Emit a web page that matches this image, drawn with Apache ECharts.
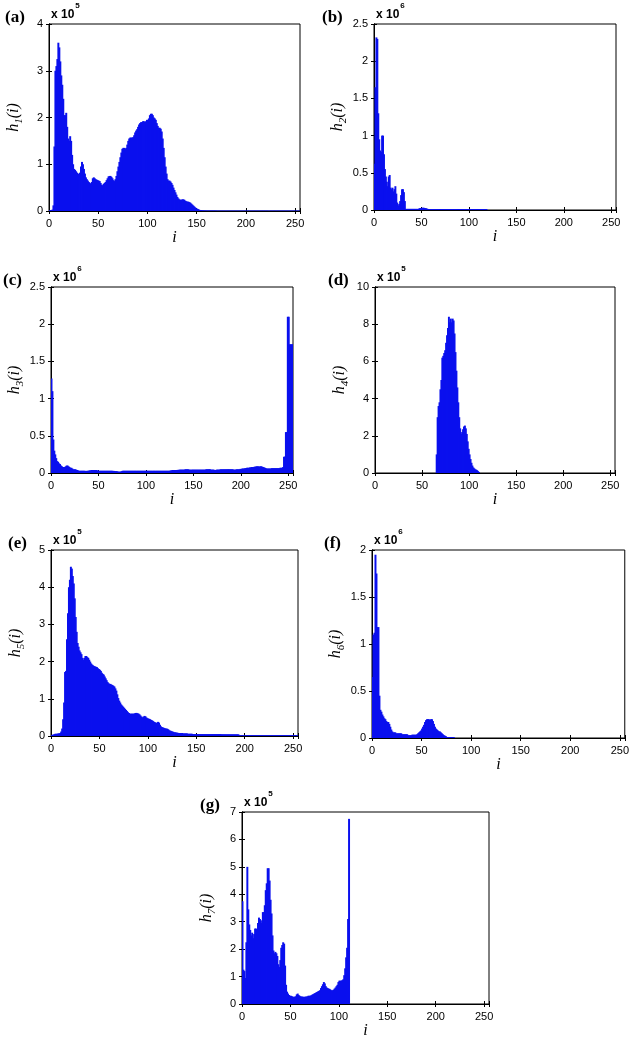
<!DOCTYPE html>
<html><head><meta charset="utf-8">
<script src="https://cdn.jsdelivr.net/npm/echarts@6/dist/echarts.min.js"></script>
<style>html,body{margin:0;padding:0;background:#fff}#c{width:632px;height:1043px}</style>
</head><body><div id="c"></div>
<script>
// ---------------- DATA (bin index i = start + position) ----------------
var xTicks = [0, 50, 100, 150, 200, 250];

// (a) h1, units of 1e5
var h1Start = 0;
var h1 = [
0.02,0.02,0.02,0.03,0.12,1.38,3.00,3.10,3.25,3.60,
3.50,3.20,2.90,2.70,2.40,2.05,2.05,2.10,1.80,1.55,
1.50,1.60,1.50,1.20,1.00,0.90,0.88,0.85,0.82,0.80,
0.78,0.82,0.95,1.05,1.00,0.90,0.80,0.72,0.68,0.65,
0.62,0.60,0.58,0.62,0.70,0.72,0.70,0.68,0.67,0.66,
0.65,0.64,0.60,0.56,0.55,0.58,0.60,0.62,0.66,0.70,
0.74,0.75,0.75,0.73,0.70,0.66,0.64,0.68,0.75,0.85,
0.95,1.05,1.15,1.25,1.33,1.35,1.35,1.33,1.35,1.42,
1.50,1.55,1.57,1.57,1.57,1.58,1.62,1.68,1.72,1.75,
1.80,1.85,1.88,1.90,1.90,1.92,1.92,1.90,1.92,1.95,
1.95,1.98,2.05,2.08,2.08,2.05,2.00,1.98,1.95,1.88,
1.82,1.78,1.78,1.76,1.70,1.55,1.35,1.15,0.95,0.80,
0.68,0.65,0.65,0.63,0.60,0.56,0.50,0.45,0.40,0.35,
0.30,0.27,0.25,0.24,0.24,0.25,0.25,0.24,0.22,0.21,
0.20,0.20,0.19,0.18,0.16,0.14,0.12,0.10,0.08,0.06,
0.05,0.04,0.03,0.02,0.02,0.015,0.015,0.012,0.012,0.01,
0.01,0.01,0.01,0.01,0.01,0.01,0.01,0.01,0.01,0.01,
0.008,0.008,0.008,0.008,0.008,0.008,0.008,0.008,0.008,0.008,
0.008,0.008,0.008,0.008,0.008,0.008,0.008,0.008,0.008,0.008,
0.008,0.008,0.008,0.008,0.008,0.008,0.008,0.008,0.008,0.008,
0.008,0.008,0.008,0.008,0.008,0.008,0.008,0.008,0.008,0.008,
0.008,0.008,0.008,0.008,0.008,0.008,0.008,0.008,0.008,0.008,
0.008,0.008,0.008,0.008,0.008,0.008,0.008,0.008,0.008,0.008,
0.008,0.008,0.008,0.008,0.008,0.008,0.008,0.008,0.008,0.008,
0.008,0.008,0.008,0.008,0.008,0.008,0.008,0.008,0.008,0.008,
0.008,0.008,0.008,0.008,0.008,0.008
];

// (b) h2, units of 1e6
var h2Start = 0;
var h2 = [
0.62,1.65,2.32,2.30,1.30,0.95,0.80,0.78,1.00,1.00,
0.75,0.55,0.45,0.38,0.32,0.45,0.47,0.30,0.28,0.30,
0.25,0.28,0.32,0.22,0.10,0.06,0.08,0.12,0.20,0.28,
0.28,0.24,0.12,0.015,0.015,0.015,0.015,0.015,0.015,0.015,
0.015,0.015,0.015,0.015,0.015,0.015,0.015,0.02,0.025,0.025,
0.03,0.03,0.03,0.025,0.025,0.02,0.015,0.012,0.012,0.012,
0.012,0.012,0.012,0.012,0.012,0.012,0.012,0.012,0.012,0.012,
0.012,0.012,0.012,0.012,0.012,0.012,0.012,0.012,0.012,0.012,
0.012,0.012,0.012,0.012,0.012,0.012,0.012,0.012,0.012,0.012,
0.012,0.012,0.012,0.012,0.012,0.012,0.012,0.012,0.012,0.012,
0.012,0.012,0.012,0.012,0.012,0.012,0.012,0.012,0.012,0.012,
0.012,0.012,0.012,0.012,0.012,0.012,0.012,0.012,0.012
];

// (c) h3, units of 1e6
var h3Start = 0;
var h3 = [
1.27,1.10,0.45,0.30,0.25,0.20,0.16,0.15,0.13,0.12,
0.10,0.09,0.08,0.08,0.08,0.09,0.10,0.10,0.09,0.08,
0.07,0.07,0.06,0.05,0.05,0.05,0.045,0.04,0.035,0.03,
0.03,0.03,0.03,0.03,0.03,0.03,0.028,0.028,0.03,0.03,
0.035,0.035,0.04,0.04,0.04,0.04,0.04,0.04,0.035,0.035,
0.03,0.03,0.03,0.03,0.03,0.03,0.03,0.03,0.03,0.03,
0.03,0.03,0.03,0.03,0.03,0.028,0.028,0.025,0.025,0.022,
0.02,0.018,0.018,0.02,0.025,0.03,0.03,0.03,0.03,0.03,
0.03,0.03,0.03,0.03,0.03,0.03,0.03,0.03,0.03,0.03,
0.03,0.03,0.03,0.03,0.03,0.03,0.03,0.03,0.03,0.03,
0.03,0.03,0.03,0.03,0.03,0.03,0.03,0.03,0.03,0.03,
0.03,0.03,0.03,0.03,0.03,0.03,0.03,0.03,0.03,0.03,
0.03,0.03,0.03,0.03,0.03,0.032,0.035,0.038,0.04,0.04,
0.04,0.04,0.04,0.042,0.042,0.045,0.045,0.045,0.045,0.045,
0.045,0.05,0.05,0.05,0.05,0.045,0.045,0.045,0.045,0.045,
0.045,0.045,0.045,0.045,0.045,0.045,0.045,0.045,0.045,0.045,
0.045,0.045,0.045,0.05,0.05,0.05,0.05,0.05,0.045,0.045,
0.045,0.045,0.04,0.04,0.045,0.045,0.045,0.045,0.05,0.05,
0.05,0.05,0.05,0.05,0.05,0.05,0.05,0.05,0.05,0.05,
0.05,0.05,0.045,0.045,0.045,0.05,0.05,0.05,0.05,0.055,
0.055,0.06,0.06,0.06,0.065,0.065,0.07,0.07,0.07,0.075,
0.075,0.08,0.08,0.08,0.085,0.085,0.09,0.09,0.09,0.085,
0.09,0.09,0.085,0.08,0.075,0.07,0.065,0.06,0.06,0.06,
0.06,0.06,0.065,0.065,0.065,0.065,0.065,0.065,0.065,0.065,
0.065,0.07,0.07,0.07,0.08,0.22,0.22,0.55,0.55,2.10,
2.10,1.73,1.73,1.73,1.73,1.73
];

// (d) h4, units of 1e5 (bins before 65 are empty)
var h4Start = 65;
var h4 = [
1.00,3.00,3.60,3.80,4.50,5.00,6.20,6.30,6.45,6.60,
7.00,7.40,7.80,8.40,8.10,8.30,8.10,8.30,8.20,7.50,
6.50,5.50,4.60,3.80,3.00,2.40,2.10,2.20,2.35,2.50,
2.55,2.40,2.10,1.70,1.30,1.00,0.75,0.55,0.40,0.30,
0.25,0.20,0.18,0.15,0.10,0.05
];

// (e) h5, units of 1e5
var h5Start = 0;
var h5 = [
0.03,0.03,0.04,0.05,0.06,0.06,0.06,0.07,0.07,0.08,
0.12,0.20,0.45,0.90,1.72,1.75,2.60,3.30,4.00,4.20,
4.55,4.50,4.30,4.10,3.70,3.20,2.80,2.50,2.40,2.30,
2.25,2.20,2.10,2.05,2.10,2.15,2.15,2.12,2.10,2.05,
2.00,1.95,1.92,1.90,1.88,1.87,1.86,1.85,1.82,1.80,
1.78,1.75,1.70,1.67,1.65,1.60,1.55,1.50,1.45,1.42,
1.40,1.40,1.38,1.37,1.35,1.33,1.28,1.22,1.12,1.02,
0.95,0.90,0.85,0.82,0.79,0.76,0.73,0.70,0.67,0.64,
0.62,0.60,0.60,0.60,0.60,0.60,0.61,0.62,0.62,0.61,
0.60,0.58,0.55,0.52,0.50,0.52,0.54,0.53,0.50,0.48,
0.47,0.46,0.45,0.43,0.42,0.40,0.38,0.37,0.35,0.36,
0.38,0.36,0.30,0.26,0.24,0.23,0.22,0.21,0.20,0.20,
0.19,0.17,0.15,0.14,0.13,0.12,0.11,0.10,0.10,0.09,
0.09,0.08,0.08,0.08,0.08,0.08,0.07,0.07,0.07,0.07,
0.07,0.06,0.06,0.06,0.06,0.06,0.05,0.05,0.05,0.05,
0.05,0.05,0.05,0.05,0.05,0.05,0.05,0.05,0.05,0.05,
0.05,0.05,0.05,0.05,0.05,0.05,0.05,0.05,0.05,0.05,
0.05,0.05,0.05,0.05,0.05,0.05,0.045,0.045,0.045,0.045,
0.045,0.045,0.045,0.045,0.045,0.045,0.045,0.045,0.045,0.045,
0.045,0.045,0.045,0.045,0.02,0.02,0.02,0.02,0.02,0.02,
0.02,0.02,0.02,0.02,0.02,0.02,0.02,0.02,0.02,0.02,
0.02,0.02,0.02,0.02,0.02,0.02,0.02,0.02,0.02,0.02,
0.02,0.02,0.02,0.02,0.02,0.02,0.02,0.02,0.02,0.02,
0.02,0.02,0.02,0.02,0.02,0.02,0.02,0.02,0.02,0.02,
0.02,0.02,0.02,0.02,0.02,0.02,0.02,0.02,0.02,0.02,
0.02,0.02,0.02,0.02,0.02,0.02
];

// (f) h6, units of 1e6
var h6Start = 0;
var h6 = [
0.65,1.10,1.12,1.95,1.75,1.18,1.18,0.45,0.30,0.28,
0.25,0.23,0.21,0.20,0.18,0.17,0.17,0.15,0.12,0.09,
0.07,0.06,0.06,0.06,0.05,0.05,0.05,0.05,0.05,0.05,
0.04,0.04,0.04,0.04,0.04,0.04,0.03,0.03,0.03,0.03,
0.035,0.035,0.035,0.035,0.035,0.04,0.05,0.06,0.07,0.08,
0.10,0.12,0.14,0.17,0.19,0.20,0.20,0.20,0.19,0.20,
0.20,0.18,0.15,0.12,0.10,0.09,0.08,0.07,0.07,0.06,
0.05,0.04,0.03,0.025,0.02,0.01,0.01,0.01,0.01,0.01,
0.01,0.01,0.01
];

// (g) h7, units of 1e5
var h7Start = 0;
var h7 = [
3.75,1.25,1.20,0.95,2.25,5.00,3.45,2.90,2.70,2.50,
2.60,2.40,2.55,2.75,2.75,2.70,2.95,3.15,3.10,3.05,
2.95,3.35,3.35,3.60,4.15,4.40,4.95,4.95,4.50,3.80,
3.30,2.50,1.95,1.85,1.90,1.85,1.75,1.45,1.35,1.60,
2.05,2.15,2.25,2.20,1.40,0.70,0.45,0.38,0.33,0.30,
0.30,0.28,0.27,0.25,0.27,0.28,0.35,0.38,0.33,0.30,
0.28,0.27,0.27,0.26,0.26,0.27,0.27,0.28,0.30,0.30,
0.30,0.32,0.34,0.36,0.38,0.40,0.42,0.44,0.46,0.48,
0.50,0.58,0.65,0.72,0.80,0.75,0.65,0.60,0.58,0.56,
0.55,0.52,0.50,0.50,0.52,0.56,0.60,0.65,0.70,0.80,
0.85,0.85,0.85,0.87,0.90,1.05,1.30,1.70,2.05,3.10,
6.75
];

// ---------------- LAYOUT / STYLE ----------------
var BLUE = '#0a10ee';
var panels = [
  {tag:'(a)', sub:'1', exp:'5', data:h1, start:h1Start, yMax:4,   yInt:1,   left:49,  top:24,  width:251, height:187, tagX:5},
  {tag:'(b)', sub:'2', exp:'6', data:h2, start:h2Start, yMax:2.5, yInt:0.5, left:374, top:24,  width:242, height:186, tagX:322},
  {tag:'(c)', sub:'3', exp:'6', data:h3, start:h3Start, yMax:2.5, yInt:0.5, left:51,  top:287, width:242, height:186, tagX:3},
  {tag:'(d)', sub:'4', exp:'5', data:h4, start:h4Start, yMax:10,  yInt:2,   left:375, top:287, width:240, height:186, tagX:328},
  {tag:'(e)', sub:'5', exp:'5', data:h5, start:h5Start, yMax:5,   yInt:1,   left:51,  top:550, width:247, height:186, tagX:8},
  {tag:'(f)', sub:'6', exp:'6', data:h6, start:h6Start, yMax:2,   yInt:0.5, left:372, top:550, width:255, height:188, tagX:324},
  {tag:'(g)', sub:'7', exp:'5', data:h7, start:h7Start, yMax:7,   yInt:1,   left:242, top:812, width:247, height:192, tagX:200}
];

var grids = [], xAxes = [], yAxes = [], series = [], titles = [];
var SANS = 'Liberation Sans, Arial, sans-serif';
var SERIF = 'Liberation Serif, Times New Roman, serif';

function renderBar(params, api) {
  var x = api.value(0), v = api.value(1);
  if (!(v > 0)) return null;
  var p0 = api.coord([x - 0.5, 0]);
  var p1 = api.coord([x + 0.5, v]);
  var cs = params.coordSys;
  var r = echarts.graphic.clipRectByRect(
    {x: p0[0], y: p1[1], width: (p1[0] - p0[0]) + 1, height: p0[1] - p1[1]},
    {x: cs.x, y: cs.y, width: cs.width, height: cs.height});
  if (!r) return null;
  return {type:'rect', shape:r, style:{fill:BLUE}};
}

function xLabelFmt(v) { return xTicks.indexOf(v) >= 0 ? String(v) : ''; }

panels.forEach(function (p, k) {
  grids.push({left:p.left, top:p.top, width:p.width, height:p.height, show:true,
              borderColor:'#000', borderWidth:1, backgroundColor:'#fff'});
  var tick = {show:true, inside:true, length:3, lineStyle:{color:'#000'}};
  var line = {show:true, lineStyle:{color:'#000', width:1}};
  xAxes.push({type:'value', gridIndex:k, position:'bottom', min:0, max:255, interval:50,
              splitLine:{show:false}, axisLine:line, axisTick:tick,
              axisLabel:{show:true, margin:7, fontFamily:SANS, fontSize:11, color:'#000', formatter:xLabelFmt},
              name:'i', nameLocation:'middle', nameGap:14,
              nameTextStyle:{fontFamily:SERIF, fontStyle:'italic', fontSize:16, color:'#000'}});
  xAxes.push({type:'value', gridIndex:k, position:'top', min:0, max:255, interval:50,
              splitLine:{show:false}, axisLine:line, axisTick:tick, axisLabel:{show:false}});
  yAxes.push({type:'value', gridIndex:k, position:'left', min:0, max:p.yMax, interval:p.yInt,
              splitLine:{show:false}, axisLine:line, axisTick:tick,
              axisLabel:{show:true, margin:6, fontFamily:SANS, fontSize:11, color:'#000'},
              name:'{i|h}{s|' + p.sub + '}{i|(i)}', nameLocation:'middle', nameRotate:90, nameGap:24,
              nameTextStyle:{color:'#000', rich:{
                i:{fontFamily:SERIF, fontStyle:'italic', fontSize:16, lineHeight:22, verticalAlign:'middle', color:'#000'},
                s:{fontFamily:SERIF, fontStyle:'italic', fontSize:11, lineHeight:22, verticalAlign:'bottom', color:'#000'}}}});
  yAxes.push({type:'value', gridIndex:k, position:'right', min:0, max:p.yMax, interval:p.yInt,
              splitLine:{show:false}, axisLine:line, axisTick:tick, axisLabel:{show:false}});

  var pts = p.data.map(function (v, j) { return [p.start + j, v]; });
  series.push({type:'custom', xAxisIndex:2*k, yAxisIndex:2*k, renderItem:renderBar,
               data:pts, silent:true, animation:false});

  titles.push({text:p.tag, left:p.tagX, top:p.top - 15, padding:0,
               textStyle:{fontFamily:SERIF, fontWeight:'bold', fontSize:17, color:'#000'}});
  titles.push({text:'{a|x 10}{b|' + p.exp + '}', left:p.left + 2, top:p.top - 22, padding:0,
               textStyle:{rich:{
                 a:{fontFamily:SANS, fontSize:12, lineHeight:19, verticalAlign:'bottom', color:'#000'},
                 b:{fontFamily:SANS, fontSize:8, lineHeight:19, verticalAlign:'top', color:'#000', padding:[0,0,0,1]}}}});
});

var chart = echarts.init(document.getElementById('c'), null, {renderer:'canvas'});
chart.setOption({animation:false, backgroundColor:'#fff', title:titles, grid:grids,
                 xAxis:xAxes, yAxis:yAxes, series:series});
</script></body></html>
